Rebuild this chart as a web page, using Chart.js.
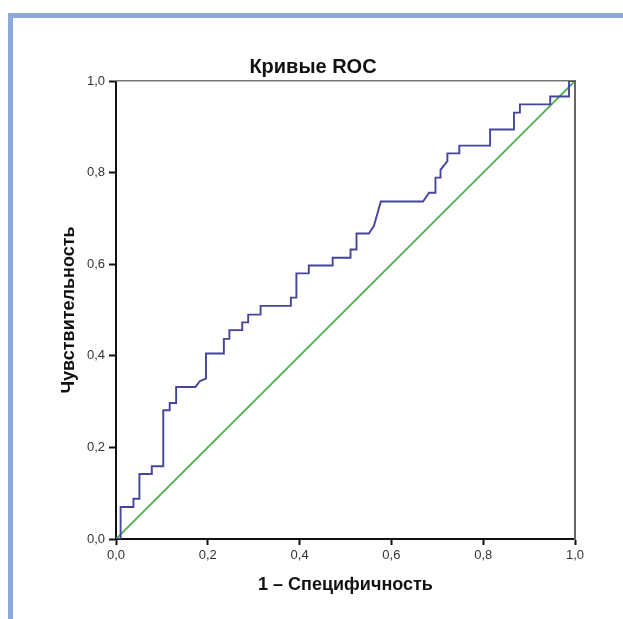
<!DOCTYPE html>
<html>
<head>
<meta charset="utf-8">
<script src="https://cdn.jsdelivr.net/npm/chart.js@4"></script>
<style>
  html, body { margin: 0; padding: 0; background: #fff; }
  #frame {
    position: absolute; left: 8px; top: 13px; right: 0; bottom: 0;
    border-top: 5px solid #8eaad8; border-left: 5px solid #8eaad8;
  }
  #myChartRoc { position: absolute; left: 0; top: 0; }
</style>
</head>
<body>
<div id="frame"></div>
<canvas id="myChartRoc" width="623" height="619"></canvas>
<script>
// ROC curve corner points (1 - specificity, sensitivity)
const rocX = [0, 0.010, 0.010, 0.038, 0.038, 0.051, 0.051, 0.078, 0.078, 0.103, 0.103,
  0.117, 0.117, 0.131, 0.131, 0.173, 0.183, 0.196, 0.196, 0.235, 0.235, 0.247, 0.247,
  0.275, 0.275, 0.288, 0.288, 0.315, 0.315, 0.381, 0.381, 0.393, 0.393, 0.420, 0.420,
  0.472, 0.472, 0.511, 0.511, 0.524, 0.524, 0.551, 0.562, 0.566, 0.577, 0.669, 0.682,
  0.696, 0.696, 0.707, 0.707, 0.722, 0.722, 0.748, 0.748, 0.815, 0.815, 0.867, 0.867,
  0.880, 0.880, 0.946, 0.946, 0.987, 0.987, 1.0];
const rocY = [0, 0, 0.070, 0.070, 0.088, 0.088, 0.142, 0.142, 0.159, 0.159, 0.281,
  0.281, 0.297, 0.297, 0.332, 0.332, 0.345, 0.350, 0.405, 0.405, 0.437, 0.437, 0.456,
  0.456, 0.473, 0.473, 0.490, 0.490, 0.509, 0.509, 0.527, 0.527, 0.580, 0.580, 0.597,
  0.597, 0.614, 0.614, 0.632, 0.632, 0.667, 0.667, 0.684, 0.698, 0.737, 0.737, 0.756,
  0.756, 0.789, 0.789, 0.806, 0.825, 0.842, 0.842, 0.859, 0.859, 0.894, 0.894, 0.931,
  0.931, 0.949, 0.949, 0.966, 0.966, 1.0, 1.0];
// reference line
const refX = [0, 1];
const refY = [0, 1];
const tickValues = [0, 0.2, 0.4, 0.6, 0.8, 1.0];

const chartRoc = document.getElementById('myChartRoc');
const fontFamily = '"Liberation Sans", Arial, sans-serif';

function toPoints(xs, ys) {
  return xs.map((x, i) => ({ x: x, y: ys[i] }));
}

function fmtTick(value) {
  return Number(value).toFixed(1).replace('.', ',');
}

new Chart(chartRoc, {
  type: 'scatter',
  data: {
    datasets: [
      {
        label: 'Исходная линия',
        data: toPoints(refX, refY),
        showLine: true,
        borderColor: '#4caf4c',
        borderWidth: 1.8,
        pointRadius: 0,
        order: 2
      },
      {
        label: 'ROC',
        data: toPoints(rocX, rocY),
        showLine: true,
        borderColor: '#45459c',
        borderWidth: 1.9,
        pointRadius: 0,
        order: 1
      }
    ]
  },
  options: {
    responsive: false,
    animation: false,
    devicePixelRatio: 1,
    layout: { padding: { left: 51, right: 48, top: 55, bottom: 20 } },
    plugins: {
      legend: { display: false },
      tooltip: { enabled: false },
      title: {
        display: true,
        text: 'Кривые ROC',
        color: '#111',
        font: { family: fontFamily, size: 20, weight: 'bold' },
        padding: { top: 0, bottom: 2 }
      }
    },
    scales: {
      x: {
        type: 'linear', position: 'bottom', min: 0, max: 1,
        afterBuildTicks: (s) => { s.ticks = tickValues.map(v => ({ value: v })); },
        afterFit: (s) => { s.height = 60; },
        ticks: {
          color: '#333', padding: 3,
          font: { family: fontFamily, size: 13 },
          callback: (v) => fmtTick(v)
        },
        grid: { drawOnChartArea: false, tickLength: 6, tickColor: '#111', tickWidth: 2 },
        border: { color: '#111', width: 2 },
        title: {
          display: true, text: '1 – Специфичность', color: '#111',
          font: { family: fontFamily, size: 18, weight: 'bold' },
          padding: { top: 4, bottom: 3 }
        }
      },
      y: {
        type: 'linear', position: 'left', min: 0, max: 1,
        afterBuildTicks: (s) => { s.ticks = tickValues.map(v => ({ value: v })); },
        afterFit: (s) => { s.width = 65; },
        ticks: {
          color: '#333', padding: 4,
          font: { family: fontFamily, size: 13 },
          callback: (v) => fmtTick(v)
        },
        grid: { drawOnChartArea: false, tickLength: 7, tickColor: '#111', tickWidth: 2 },
        border: { color: '#111', width: 2 },
        title: {
          display: true, text: 'Чувствительность', color: '#111',
          font: { family: fontFamily, size: 18, weight: 'bold' },
          padding: { top: 7, bottom: 4 }
        }
      },
      xTop: {
        type: 'linear', position: 'top', min: 0, max: 1,
        afterFit: (s) => { s.height = 0; },
        ticks: { display: false },
        grid: { display: false, drawTicks: false },
        border: { color: '#777', width: 1.5 }
      },
      yRight: {
        type: 'linear', position: 'right', min: 0, max: 1,
        afterFit: (s) => { s.width = 0; },
        ticks: { display: false },
        grid: { display: false, drawTicks: false },
        border: { color: '#666', width: 2 }
      }
    }
  }
});
</script>
</body>
</html>
